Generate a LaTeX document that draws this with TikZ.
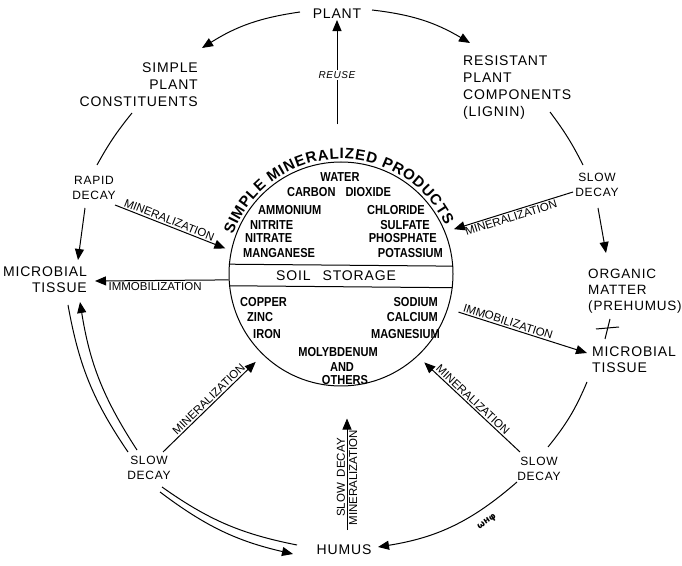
\documentclass[tikz,border=0pt]{standalone}
\usepackage{fontspec}
\usetikzlibrary{arrows.meta,decorations.text}
\newfontfamily\lblfont[LetterSpace=6]{Liberation Sans}
\newfontfamily\plainsans{Liberation Sans}
\newfontfamily\minfont[FakeStretch=0.85]{Liberation Sans}
\newfontfamily\squigfont{DejaVu Sans}
\newcommand\arcfont{\plainsans\bfseries\fontsize{15}{15}\selectfont}
\begin{document}
\begin{tikzpicture}[x=1pt,y=1pt,
  lbl/.style={font=\lblfont\fontsize{14}{17}\selectfont, inner sep=0pt},
  sml/.style={font=\lblfont\fontsize{12}{15}\selectfont, inner sep=0pt, align=center},
  arlbl/.style={font=\plainsans\fontsize{11.5}{13}\selectfont, inner sep=1.5pt},
  minl/.style={font=\minfont\bfseries\fontsize{13}{15}\selectfont, inner sep=0pt},
  squig/.style={font=\squigfont\bfseries\fontsize{9}{9}\selectfont, inner sep=0pt},
  flow/.style={line width=1pt, -{Triangle[length=11pt,width=9pt]}},
  plainln/.style={line width=1pt}]
\useasboundingbox (0,0) rectangle (682,565);

% soil storage pool
\node[draw, circle, line width=1pt, minimum size=224pt, inner sep=0pt] (core) at (341,291) {};
\draw[plainln] (core.175.4) -- (core.4.6);
\draw[plainln] (core.186.67) -- (core.353.33);
\path[decorate, decoration={text along path, text align=fit to path,
  text={|\arcfont|SIMPLE MINERALIZED PRODUCTS}}]
  ([shift={(160:115)}]core.center) arc[start angle=160, end angle=25, radius=115];

\node[minl] (water) at (340,388) {WATER};
\node[minl] (co2) at (339,373) {CARBON\hspace{10pt}DIOXIDE};
\node[minl, anchor=west] (ammon) at (258,355) {AMMONIUM};
\node[minl, anchor=east] (chlor) at (425,355) {CHLORIDE};
\node[minl, anchor=west] (nitrite) at (250,340) {NITRITE};
\node[minl, anchor=east] (sulf) at (430,340) {SULFATE};
\node[minl, anchor=west] (nitrate) at (245,327) {NITRATE};
\node[minl, anchor=east] (phos) at (437,327) {PHOSPHATE};
\node[minl, anchor=west] (mang) at (243,312) {MANGANESE};
\node[minl, anchor=east] (potas) at (443,312) {POTASSIUM};
\node[lbl] (soil) at (336,289) {SOIL\hspace{12pt}STORAGE};
\node[minl, anchor=west] (copper) at (240,263) {COPPER};
\node[minl, anchor=west] (zinc) at (247,248) {ZINC};
\node[minl, anchor=west] (iron) at (253,231) {IRON};
\node[minl, anchor=east] (sodium) at (438,263) {SODIUM};
\node[minl, anchor=east] (calc) at (438,248) {CALCIUM};
\node[minl, anchor=east] (magn) at (440,231) {MAGNESIUM};
\node[minl] (moly) at (338,213) {MOLYBDENUM};
\node[minl] (andn) at (342,198) {AND};
\node[minl] (others) at (345,185) {OTHERS};

% outer cycle labels
\node[lbl] (plant) at (337,551) {PLANT};
\node[lbl, align=right, anchor=east] (spc) at (198,480) {SIMPLE\\PLANT\\CONSTITUENTS};
\node[lbl, align=left, anchor=west] (rpc) at (463,477) {RESISTANT\\PLANT\\COMPONENTS\\(LIGNIN)};
\node[sml] (rapid) at (94,377) {RAPID\\DECAY};
\node[lbl, align=right, anchor=east, font=\lblfont\fontsize{14}{16}\selectfont] (microL) at (87,285) {MICROBIAL\\TISSUE};
\node[sml] (slowL) at (149,97) {SLOW\\DECAY};
\node[lbl] (humus) at (344,15) {HUMUS};
\node[sml] (slowR) at (539,96) {SLOW\\DECAY};
\node[sml] (slowT) at (597,380) {SLOW\\DECAY};
\node[lbl, align=left, anchor=west, font=\lblfont\fontsize{13.5}{16}\selectfont] (om) at (588,274) {ORGANIC\\MATTER\\(PREHUMUS)};
\node[lbl, align=left, anchor=west, font=\lblfont\fontsize{14}{16}\selectfont] (microR) at (592,205) {MICROBIAL\\TISSUE};
\draw[plainln] (596,236) -- (619,238);
\draw[plainln] (610,246) -- (605,226);

% plant residues
\draw[flow] ([shift={(-37,2)}]plant.center) to[bend right=12] ([shift={(4,37)}]spc.east);
\draw[flow] ([shift={(35,4)}]plant.center) to[bend left=12] ([shift={(7,45)}]rpc.west);
\draw[flow, shorten >=1pt] ([shift={(-4,37)}]core.north) -- node[arlbl, fill=white, pos=0.47, font=\lblfont\itshape\fontsize{10}{12}\selectfont] (reuse) {REUSE} (plant.south);

% left side
\draw[plainln] ([shift={(-66,-28)}]spc.east) to[bend right=5] ([shift={(3,23)}]rapid.center);
\draw[flow] ([shift={(-9,-20)}]rapid.center) -- ([shift={(-9,20)}]microL.east);
\draw[flow, shorten >=6pt] ([shift={(21,-17)}]rapid.center) -- node[arlbl, sloped, above, pos=0.45] {MINERALIZATION} (core.168);
\draw[flow] (core.183) -- node[arlbl, below, pos=0.55] {IMMOBILIZATION} ([shift={(8,-1)}]microL.east);
\draw[plainln] ([shift={(-21,16)}]slowL.center) to[bend left=12] ([shift={(-19,-25)}]microL.east);
\draw[flow] ([shift={(-12,18)}]slowL.center) to[bend left=12] ([shift={(-7,-22)}]microL.east);
\draw[flow, shorten >=10pt] ([shift={(14,16)}]slowL.center) -- node[arlbl, sloped, above] {MINERALIZATION} (core.226);
\draw[plainln] ([shift={(13,-19)}]slowL.center) to[bend right=12] ([shift={(-47,5)}]humus.center);
\draw[flow] ([shift={(11,-24)}]slowL.center) to[bend right=12] ([shift={(-51,-4)}]humus.center);

% humus
\draw[flow] ([shift={(3,20)}]humus.center) -- node[arlbl, sloped, above, pos=0.47] {SLOW\hspace{6pt}DECAY} node[arlbl, sloped, below, pos=0.47] {MINERALIZATION} ([shift={(6,-32)}]core.south);

% right side
\draw[plainln] ([shift={(87,-24)}]rpc.west) to[bend left=5] ([shift={(-14,20)}]slowT.center);
\draw[flow] ([shift={(1,-23)}]slowT.center) -- ([shift={(18,38)}]om.west);
\draw[flow, shorten >=9pt] ([shift={(-24,-7)}]slowT.center) -- node[arlbl, sloped, below] {MINERALIZATION} (core.22);
\draw[flow, shorten <=11pt] (core.342) -- node[arlbl, sloped, above, pos=0.42] {IMMOBILIZATION} ([shift={(-5,7)}]microR.west);
\draw[plainln] ([shift={(-5,-22)}]microR.west) to[bend left=8] ([shift={(9,22)}]slowR.center);
\draw[flow, shorten >=9pt] ([shift={(-19,17)}]slowR.center) -- node[arlbl, sloped, above] {MINERALIZATION} (core.313);
\draw[flow] ([shift={(-22,-13)}]slowR.center) to[bend left=16] ([shift={(34,3)}]humus.center);
\node[squig, rotate=35] (mark) at (487,43) {ωнφ};
\end{tikzpicture}
\end{document}
